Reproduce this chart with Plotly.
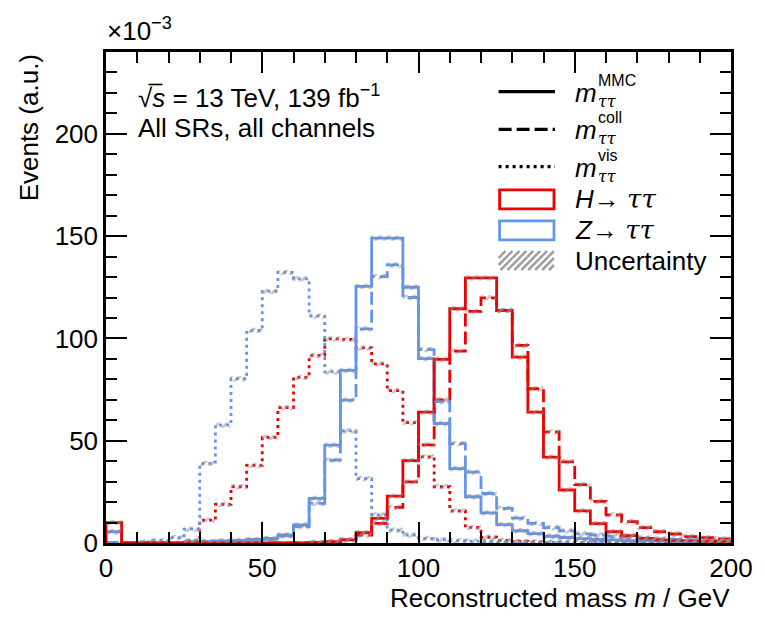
import numpy as np
import plotly.graph_objects as go

# ---------------- data (values in units of 1e-3) ----------------
bin_edges = list(range(0, 205, 5))  # 0..200 GeV, 5 GeV bins

h_mmc = [10, 0, 0, 0, 0, 0, 0, 0, 0, 0,
         0, 0, 0, 0.3, 0.7, 1.5, 5, 12, 22.9, 40.3,
         64, 89.8, 114.5, 129.6, 129.6, 113.7, 90.9, 64, 42, 25.9,
         15.7, 9.5, 5.5, 3.6, 2.3, 1.5, 1.2, 1.0, 0.8, 0.6]
h_coll = [0, 0, 0, 0, 0, 0, 0, 0, 0, 0,
          0, 0, 0, 0.2, 0.6, 1.5, 3.9, 9.6, 17.4, 29.9,
          48, 70, 93.8, 113.2, 119.8, 113.7, 96.6, 75.4, 54.3, 39.7,
          28.5, 20.3, 13.7, 10.4, 7.5, 5.5, 4.4, 3.1, 2.6, 2.0]
h_vis = [0, 0, 0, 0, 0, 1, 11.2, 18.9, 27.5, 37.9,
         51.6, 66.2, 81, 91.7, 99.8, 99.5, 95.4, 87.6, 74.5, 58.8,
         42.1, 27.5, 15.7, 7.6, 2.8, 1.3, 0.8, 0.5, 0.3, 0.2,
         0.2, 0.2, 0.1, 0.1, 0.1, 0.1, 0.1, 0.1, 0.1, 0.1]
z_mmc = [5.5, 0, 0, 0, 0, 0.5, 0.7, 1.0, 1.3, 1.8,
         2.3, 3.9, 8.8, 21.8, 47.8, 84.4, 125.4, 149, 149, 125,
         90.1, 58.4, 36.4, 22.6, 14.7, 9.0, 6.0, 4.6, 3.3, 2.7,
         2.1, 1.7, 1.5, 1.2, 1.0, 0.9, 0.8, 0.7, 0.6, 0.5]
z_coll = [0, 0, 0, 0, 0, 0.3, 0.5, 0.6, 0.8, 1.2,
          1.8, 3.5, 8.0, 19.4, 40.5, 69.8, 104.7, 130.2, 135.9, 120,
          94.5, 69.1, 48.6, 34.6, 24.2, 16.9, 12.2, 9.6, 7.5, 5.9,
          4.5, 3.9, 3.3, 2.8, 2.4, 2.0, 1.7, 1.5, 1.3, 1.1]
z_vis = [0, 0, 0.5, 1.2, 2.6, 6.8, 38.9, 57.6, 80.3, 103.9,
         123, 132.3, 129.1, 110.9, 83.6, 54.8, 31.5, 13.7, 6.3, 3.9,
         2.3, 1.6, 1.2, 0.9, 0.7, 0.5, 0.4, 0.3, 0.3, 0.3,
         0.3, 0.3, 0.3, 0.3, 0.3, 0.3, 0.3, 0.3, 0.3, 0.3]

x_ticks = [0, 50, 100, 150, 200]
y_ticks = [0, 50, 100, 150, 200]
x_range = [0, 200]
y_range = [0, 240]

# ---------------- style ----------------
RED = "#ee0000"
BLUE = "#6495ed"
FONT = "Liberation Sans, Arial, Helvetica, sans-serif"
OFF = 8  # default page body margin
W, H = 765 - OFF, 617 - OFF
ML, MR, MT, MB = 98, 27, 44, 74
PW, PH = W - ML - MR, H - MT - MB
FS = 26
TAU = '<span style="font-family:DejaVu Serif;font-style:italic">ττ</span>'


def px(X):  # X in window pixels
    return (X - OFF - ML) / PW


def py(Y):  # Y in window pixels
    return (H - MB - (Y - OFF)) / PH


def step_xy(vals):
    xs = [bin_edges[0]] + bin_edges
    ys = [0] + list(vals) + [vals[-1]]
    return xs, ys


fig = go.Figure()

DASH = "13px,5px"
DOT = "3px,4px"
series = [
    (h_vis, RED, DOT),
    (z_vis, BLUE, DOT),
    (h_coll, RED, DASH),
    (z_coll, BLUE, DASH),
    (z_mmc, BLUE, "solid"),
    (h_mmc, RED, "solid"),
]

unc = 1.3
for vals, col, dash in series:
    xs, ys = step_xy(vals)
    fig.add_trace(go.Scatter(x=xs, y=ys, mode="lines", line_shape="hv",
                             line=dict(color=col, width=2.8, dash=dash),
                             showlegend=False, hoverinfo="skip"))
for vals, col, dash in series:
    xs, ys = step_xy(vals)
    lo = [max(v - unc, 0) if v > 0 else 0 for v in ys]
    hi = [v + unc if v > 0 else 0 for v in ys]
    fig.add_trace(go.Scatter(x=xs, y=lo, mode="lines", line_shape="hv",
                             line=dict(width=0), showlegend=False, hoverinfo="skip"))
    fig.add_trace(go.Scatter(x=xs, y=hi, mode="lines", line_shape="hv",
                             line=dict(width=0), fill="tonexty",
                             fillcolor="rgba(0,0,0,0)",
                             fillpattern=dict(shape="/", fgcolor="#8a8a8a",
                                              bgcolor="rgba(0,0,0,0)",
                                              size=6, solidity=0.45),
                             showlegend=False, hoverinfo="skip"))

axis_common = dict(showline=True, linewidth=2.5, linecolor="black", mirror="allticks",
                   ticks="inside", ticklen=21, tickwidth=2, tickcolor="black",
                   showgrid=False, zeroline=False,
                   tickfont=dict(family=FONT, size=FS, color="black"))

fig.update_xaxes(range=x_range, tickvals=x_ticks, ticktext=[str(t) for t in x_ticks],
                 minor=dict(ticks="inside", ticklen=11, tickwidth=1.8, tickcolor="black",
                            dtick=10, tick0=0, showgrid=False),
                 **axis_common)
fig.update_yaxes(range=y_range, tickvals=y_ticks, ticktext=[str(t) for t in y_ticks],
                 minor=dict(ticks="inside", ticklen=11, tickwidth=1.8, tickcolor="black",
                            dtick=10, tick0=0, showgrid=False),
                 **axis_common)

ann = []


def text(t, X, Y, size=FS, xanchor="left", yanchor="middle", **kw):
    ann.append(dict(text=t, x=px(X), y=py(Y), xref="paper", yref="paper",
                    xanchor=xanchor, yanchor=yanchor, showarrow=False,
                    font=dict(family=FONT, size=size, color="black"), **kw))


# axis titles
text("Reconstructed mass <i>m</i> / GeV", 739, 598, xanchor="right")
text("Events (a.u.)", 28, 52, xanchor="center", yanchor="top", textangle=-90)
text("×10<sup>−3</sup>", 105, 30)
# labels
text("√<i>s</i> = 13 TeV, 139 fb<sup>−1</sup>", 136, 96)
text("All SRs, all channels", 136, 128)

shapes = []
# overline of the square root
shapes.append(dict(type="line", xref="paper", yref="paper", x0=px(149), x1=px(163),
                   y0=py(84.5), y1=py(84.5), line=dict(color="black", width=1.6)))

# legend
leg_x0, leg_x1, txt_x = 503, 560, 579
rows = [(91.7, "solid", "MMC"), (129.3, DASH, "coll"), (166.7, DOT, "vis")]
for Y, dash, lab in rows:
    shapes.append(dict(type="line", xref="paper", yref="paper", x0=px(leg_x0), x1=px(leg_x1),
                       y0=py(Y), y1=py(Y), line=dict(color="black", width=3.2, dash=dash)))
    text("<i>m</i>", txt_x, Y + 1, borderpad=0)
    text(lab + "<br>" + TAU, 602, Y - 0.5, size=16, align="left", borderpad=0)

boxes = [(199.3, RED, "<i>H</i>→ " + TAU), (230.3, BLUE, "<i>Z</i>→ " + TAU)]
for Y, col, lab in boxes:
    shapes.append(dict(type="rect", xref="paper", yref="paper", x0=px(leg_x0 + 1), x1=px(leg_x1 - 1),
                       y0=py(Y + 9.5), y1=py(Y - 9.5), line=dict(color=col, width=2.8),
                       fillcolor="rgba(0,0,0,0)"))
    text(lab, txt_x, Y, borderpad=0)

# hatched uncertainty swatch
bx0, bx1, by0, by1 = 503, 559, 251, 270
step = 7
xs0 = bx0 - (by1 - by0)
while xs0 < bx1:
    xa, ya = xs0, by1
    xb, yb = xs0 + (by1 - by0), by0
    if xa < bx0:
        ya = ya - (bx0 - xa)
        xa = bx0
    if xb > bx1:
        yb = yb + (xb - bx1)
        xb = bx1
    if xb > xa:
        shapes.append(dict(type="line", xref="paper", yref="paper", x0=px(xa), x1=px(xb),
                           y0=py(ya), y1=py(yb), line=dict(color="#a0a0a0", width=2.5)))
    xs0 += step
text("Uncertainty", txt_x, 261, borderpad=0)

fig.update_layout(width=W, height=H, margin=dict(l=ML, r=MR, t=MT, b=MB, pad=0),
                  paper_bgcolor="white", plot_bgcolor="white",
                  annotations=ann, shapes=shapes, showlegend=False,
                  font=dict(family=FONT, color="black"))

fig.write_html("out.html")
